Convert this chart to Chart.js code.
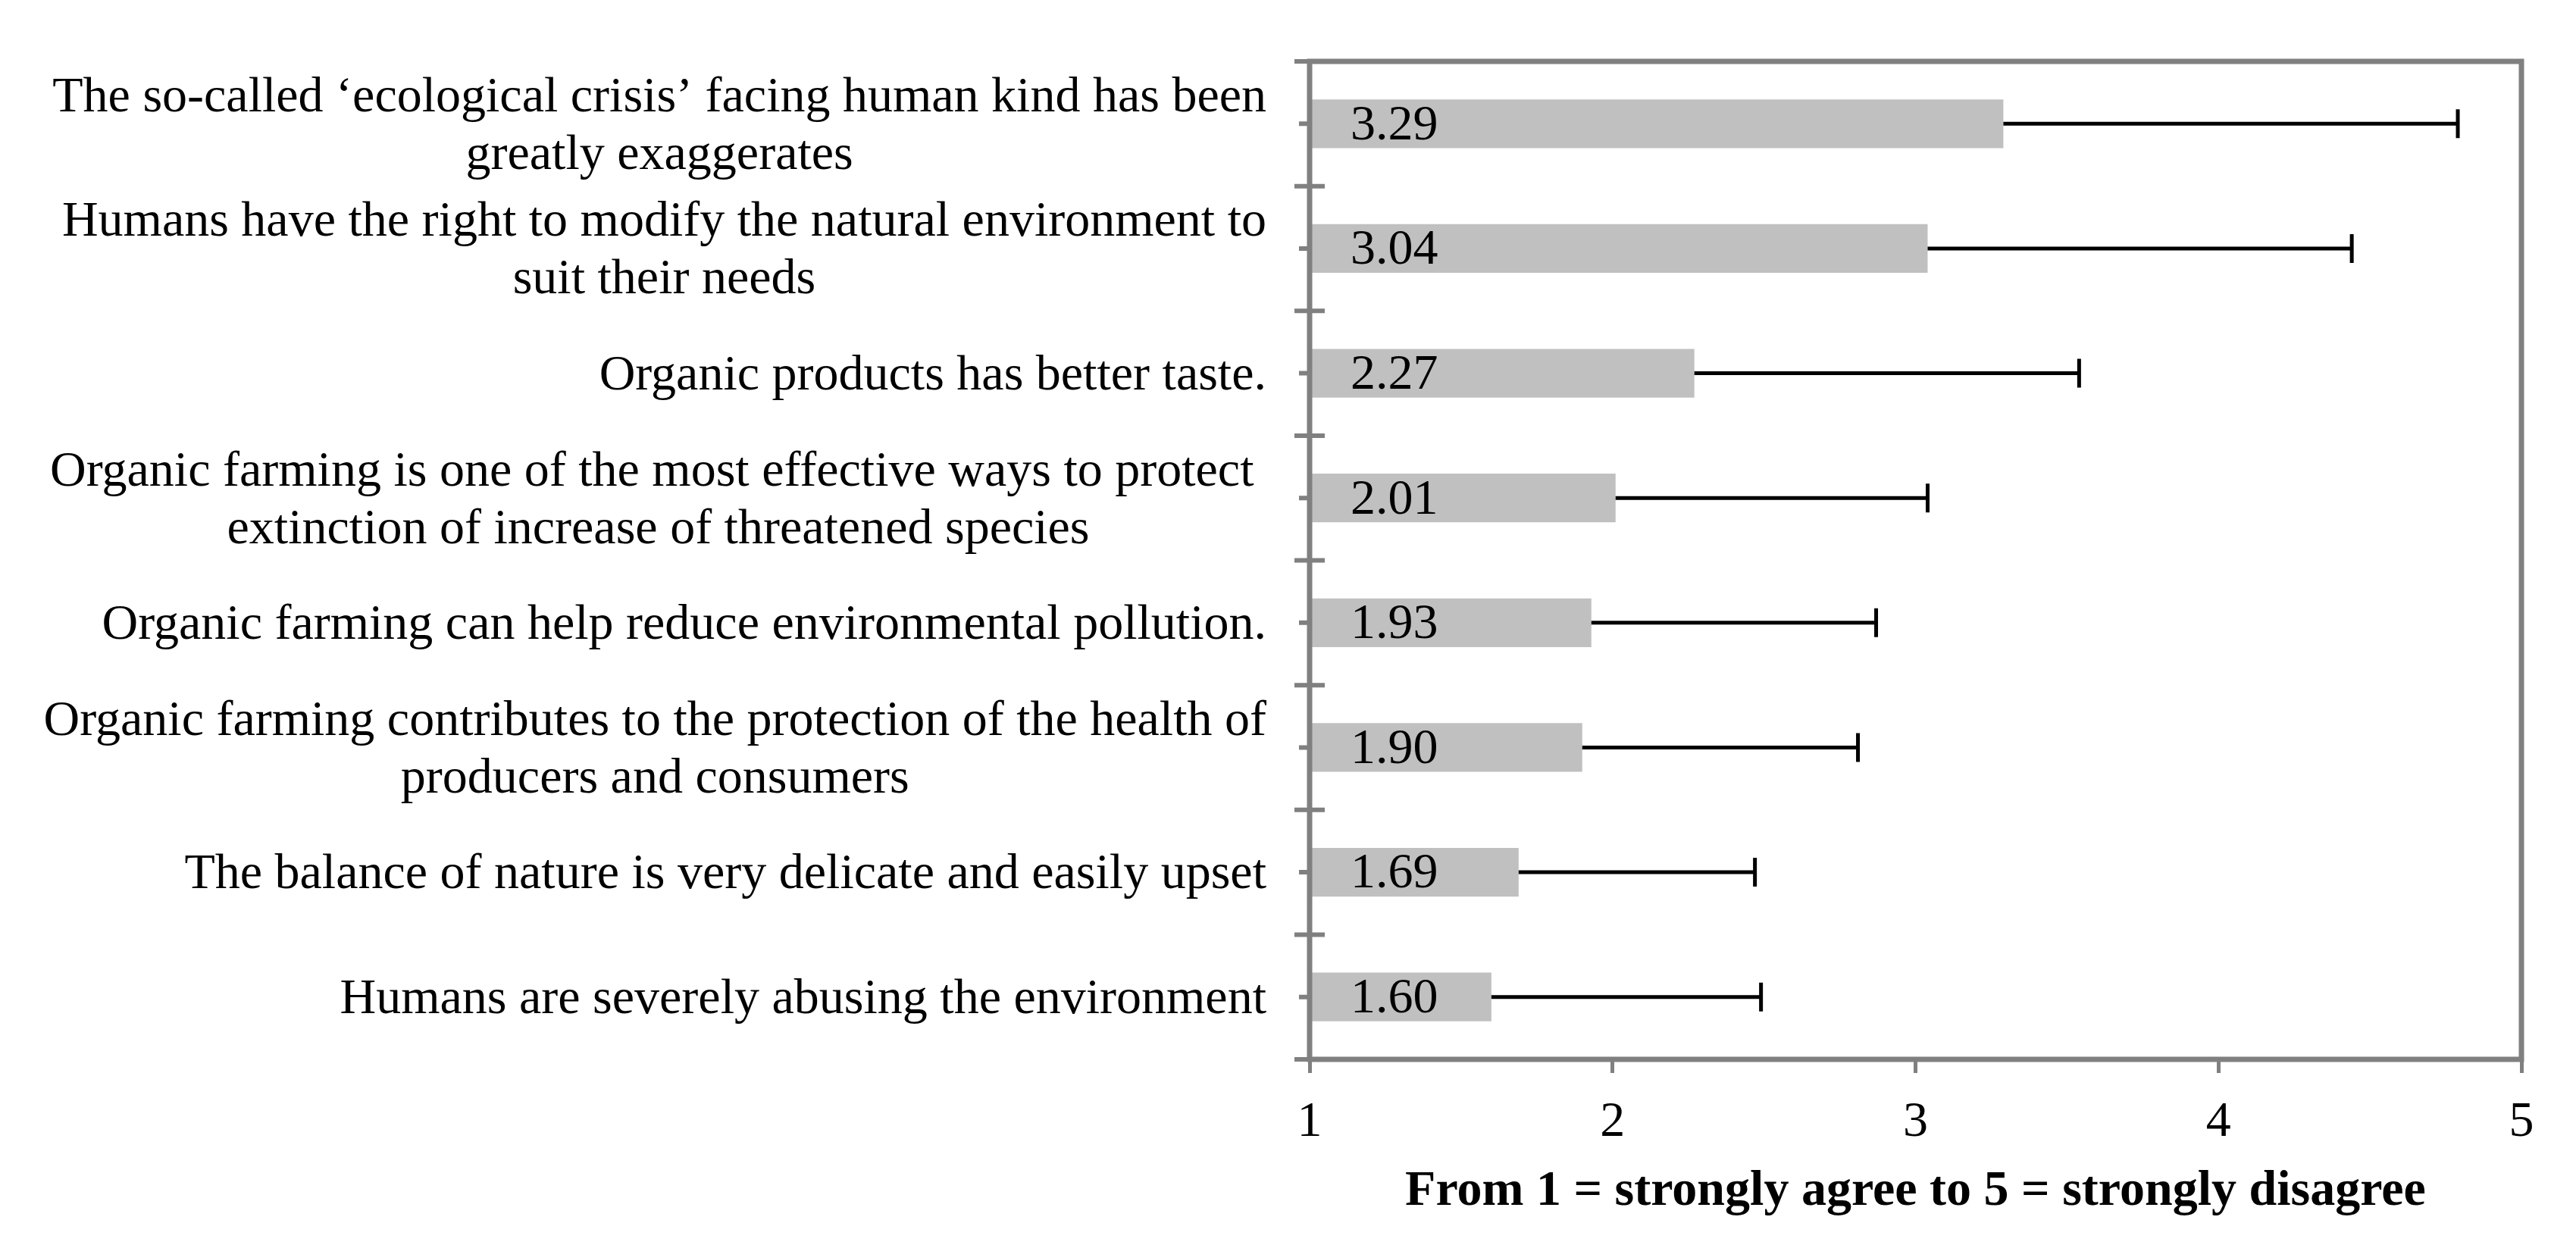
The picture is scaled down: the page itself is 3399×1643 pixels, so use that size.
<!DOCTYPE html>
<html>
<head>
<meta charset="utf-8">
<script src="https://cdn.jsdelivr.net/npm/chart.js@4.4.1/dist/chart.umd.min.js"></script>
<style>
    html, body { margin: 0; padding: 0; background: #ffffff; }
    #wrap { width: 3399px; height: 1643px; position: relative; }
</style>
</head>
<body>
<div id="wrap"><canvas id="chart"></canvas></div>
<script>
// statements, top to bottom
const statements = [
    ["The so-called \u2018ecological crisis\u2019 facing human kind has been", "greatly exaggerates"],
    ["Humans have the right to modify the natural environment to", "suit their needs"],
    ["Organic products has better taste."],
    ["Organic farming is one of the most effective ways to protect ", "extinction of increase of threatened species"],
    ["Organic farming can help reduce environmental pollution."],
    ["Organic farming contributes to the protection of the health of", "producers and consumers"],
    ["The balance of nature is very delicate and easily upset"],
    ["Humans are severely abusing the environment"]
];

// mean scores
const means = [3.29, 3.04, 2.27, 2.01, 1.93, 1.90, 1.69, 1.60];

// standard deviations (error bar, plus side only)
const stdDevs = [1.50, 1.40, 1.27, 1.03, 0.94, 0.91, 0.78, 0.89];

const xTicks = [1, 2, 3, 4, 5];

const axisTitle = "From 1 = strongly agree to 5 = strongly disagree";

const FONT = "\"Liberation Serif\", \"Times New Roman\", serif";
const FONT_SIZE = 66;
const GREY = "#808080";

const surveyPlugin = {
    id: "survey",

    afterDatasetsDraw(chart) {
        const ctx = chart.ctx;
        const x = chart.scales.x;
        const y = chart.scales.y;

        ctx.save();

        // error bars
        ctx.strokeStyle = "#000000";
        ctx.lineWidth = 5;
        means.forEach((m, i) => {
            const yc = y.getPixelForValue(i);
            const x0 = x.getPixelForValue(m);
            const x1 = x.getPixelForValue(m + stdDevs[i]);
            ctx.beginPath();
            ctx.moveTo(x0, yc);
            ctx.lineTo(x1, yc);
            ctx.moveTo(x1, yc - 19);
            ctx.lineTo(x1, yc + 19);
            ctx.stroke();
        });

        // value labels inside bars
        ctx.fillStyle = "#000000";
        ctx.font = FONT_SIZE + "px " + FONT;
        ctx.textAlign = "left";
        ctx.textBaseline = "middle";
        means.forEach((m, i) => {
            ctx.fillText(
                m.toFixed(2),
                x.getPixelForValue(x.min) + 54,
                y.getPixelForValue(i) + 3
            );
        });

        ctx.restore();
    },

    afterDraw(chart) {
        const ctx = chart.ctx;
        const area = chart.chartArea;
        const y = chart.scales.y;

        ctx.save();

        // plot frame
        ctx.strokeStyle = GREY;
        ctx.lineWidth = 7;
        ctx.strokeRect(area.left, area.top, area.right - area.left, area.bottom - area.top);

        // category ticks: long at boundaries, short at centres
        ctx.lineWidth = 6;
        ctx.beginPath();
        for (let i = 0; i <= statements.length; i++) {
            const yb = y.getPixelForValue(i - 0.5);
            ctx.moveTo(area.left - 20, yb);
            ctx.lineTo(area.left + 20, yb);
        }
        for (let i = 0; i < statements.length; i++) {
            const yc = y.getPixelForValue(i);
            ctx.moveTo(area.left - 14, yc);
            ctx.lineTo(area.left, yc);
        }
        ctx.stroke();

        // category labels: block right aligned, lines centred within block
        ctx.fillStyle = "#000000";
        ctx.font = FONT_SIZE + "px " + FONT;
        ctx.textAlign = "center";
        ctx.textBaseline = "middle";
        const rightEdge = area.left - 57;
        const lineH = 76;
        statements.forEach((lines, i) => {
            const widest = Math.max(...lines.map(l => ctx.measureText(l).width));
            const cx = rightEdge - widest / 2;
            const yc = y.getPixelForValue(i) + 4;
            const start = yc - (lines.length - 1) * lineH / 2;
            lines.forEach((l, k) => {
                ctx.fillText(l, cx, start + k * lineH);
            });
        });

        ctx.restore();
    }
};

new Chart(document.getElementById("chart"), {

    type: "bar",

    data: {
        labels: statements.map(s => s.join(" ")),
        datasets: [
            {
                data: means,
                backgroundColor: "#c0c0c0",
                borderWidth: 0,
                barPercentage: 0.39,
                categoryPercentage: 1
            }
        ]
    },

    options: {

        indexAxis: "y",

        responsive: true,

        maintainAspectRatio: false,

        devicePixelRatio: 1,

        animation: false,

        layout: {
            padding: { top: 81, right: 72, left: 0, bottom: 0 }
        },

        plugins: {
            legend: { display: false },
            tooltip: { enabled: false }
        },

        scales: {

            x: {
                type: "linear",
                min: xTicks[0],
                max: xTicks[xTicks.length - 1],
                afterBuildTicks: scale => {
                    scale.ticks = xTicks.map(v => ({ value: v }));
                },
                afterFit: scale => {
                    scale.height = 245;
                },
                grid: {
                    drawOnChartArea: false,
                    color: GREY,
                    lineWidth: 5,
                    tickLength: 18
                },
                border: { display: false },
                ticks: {
                    color: "#000000",
                    padding: 26,
                    font: { family: FONT, size: FONT_SIZE }
                },
                title: {
                    display: true,
                    text: axisTitle,
                    color: "#000000",
                    padding: { top: 0, bottom: 30 },
                    font: { family: FONT, size: FONT_SIZE, weight: "bold" }
                }
            },

            y: {
                afterFit: scale => {
                    scale.width = 1728;
                },
                grid: { display: false },
                border: { display: false },
                ticks: {
                    color: "rgba(0,0,0,0)",
                    font: { family: FONT, size: FONT_SIZE }
                }
            }
        }
    },

    plugins: [surveyPlugin]
});
</script>
</body>
</html>
